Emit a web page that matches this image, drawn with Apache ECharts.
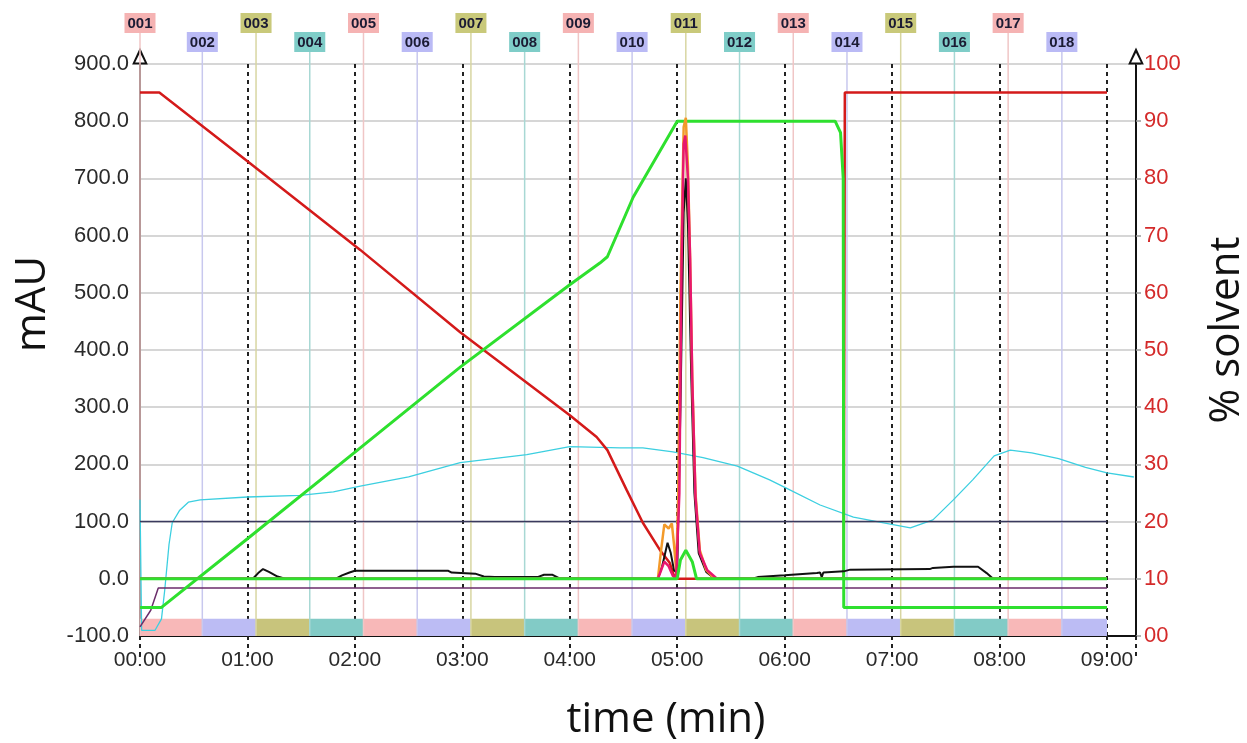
<!DOCTYPE html>
<html>
<head>
<meta charset="utf-8">
<script src="https://cdn.jsdelivr.net/npm/echarts@6/dist/echarts.min.js"></script>
<style>
  html, body { margin: 0; background: #fff; }
  #chart { width: 1247px; height: 743px; }
</style>
</head>
<body>
<div id="chart"></div>
<script>
// fraction collector
const fracNames = ['001','002','003','004','005','006','007','008','009','010','011','012','013','014','015','016','017','018'];
const fracStart = [0, 0.58, 1.08, 1.58, 2.08, 2.58, 3.08, 3.58, 4.08, 4.58, 5.08, 5.58, 6.08, 6.58, 7.08, 7.58, 8.08, 8.58];
const fracEnd = [0.58, 1.08, 1.58, 2.08, 2.58, 3.08, 3.58, 4.08, 4.58, 5.08, 5.58, 6.08, 6.58, 7.08, 7.58, 8.08, 8.58, 9.0];

// gradient (% solvent, right axis) as [min, %]
const solventRed = [[0,95],[0.18,95],[1.0,83],[2.05,67.5],[2.98,53.1],[4.0,38.6],[4.25,34.8],[4.35,32.5],[4.53,25.5],[4.68,19.8],[4.84,15.0],[4.93,12.8],[4.98,10],[6.55,10],[6.56,95],[9.0,95]];
const solventGreen = [[0,5],[0.2,5],[1.0,17],[2.05,32.9],[2.98,47],[4.0,61.4],[4.28,65.2],[4.35,66.3],[4.59,76.7],[5.0,90],[6.47,90],[6.52,88],[6.545,80],[6.55,5],[9.0,5]];

// detector traces (mAU, left axis) as [min, mAU]
const uvCyan = [[0,138],[0.015,-90],[0.14,-90],[0.2,-70],[0.23,-20],[0.27,60],[0.3,98],[0.37,120],[0.45,134],[0.56,138],[1.0,143],[1.49,146],[1.8,152],[2.05,162],[2.5,178],[2.98,203],[3.6,217],[4.0,231],[4.47,229],[4.68,229],[4.96,222],[5.24,212],[5.56,197],[5.86,173],[6.02,158],[6.33,129],[6.64,108],[6.86,100],[7.17,89],[7.38,103],[7.57,138],[7.75,173],[7.95,215],[8.1,225],[8.3,220],[8.55,210],[8.8,195],[9.0,185],[9.25,178]];
const uvBlack = [[0,0],[1.05,0],[1.1,10],[1.145,17],[1.2,12],[1.28,4],[1.35,0],[1.82,0],[1.88,6],[1.95,11],[2.0,14],[2.87,14],[2.9,11],[3.12,9],[3.2,4],[3.3,3],[3.7,3],[3.76,7],[3.84,7],[3.9,1],[4.82,0],[4.86,22],[4.91,63],[4.94,45],[4.97,15],[5.0,10],[5.03,300],[5.06,640],[5.08,700],[5.1,620],[5.13,360],[5.16,150],[5.2,45],[5.27,12],[5.35,0],[5.7,0],[5.75,3],[6.0,6],[6.3,10],[6.33,11],[6.345,3],[6.36,11],[6.55,13],[6.61,16],[7.35,17],[7.38,19],[7.57,21],[7.8,21],[7.88,10],[7.94,0],[9.0,0]];
const uvOrange = [[0,0],[4.82,0],[4.85,50],[4.88,95],[4.92,88],[4.95,97],[4.97,60],[4.99,15],[5.01,150],[5.03,500],[5.06,790],[5.08,806],[5.1,720],[5.12,560],[5.14,350],[5.17,150],[5.21,50],[5.27,15],[5.35,0],[9.0,0]];
const uvMagenta = [[0,0],[4.82,0],[4.85,15],[4.88,30],[4.92,22],[4.96,5],[4.99,2],[5.02,150],[5.04,550],[5.06,760],[5.075,775],[5.1,700],[5.12,560],[5.14,348],[5.17,143],[5.21,45],[5.28,15],[5.37,0],[9.0,0]];
const uvGreen = [[0,0],[5.0,0],[5.03,33],[5.08,50],[5.14,30],[5.18,0],[9.0,0]];
const threshold = [[0,100],[9.0,100]];
const uvPurple = [[0,-84],[0.1,-55],[0.17,-16],[9.0,-16]];

const fracColors = [
  { label: '#f5b3b3', line: '#f0c6c6', band: '#f8b8b8' },
  { label: '#babaf5', line: '#c8c8ee', band: '#bcbcf4' },
  { label: '#c9c97a', line: '#d8d6a2', band: '#c8c47c' },
  { label: '#7fcdc8', line: '#a8d8d4', band: '#82cbc6' }
];

const arrow = 'path://M6,0 L12,13 L0,13 Z M6,4 L2.3,11.4 L9.7,11.4 Z';

const chart = echarts.init(document.getElementById('chart'));

function trace(name, data, color, width, yIndex) {
  return {
    name: name, type: 'line', data: data, yAxisIndex: yIndex || 0,
    showSymbol: false, symbol: 'none', clip: true,
    lineStyle: { color: color, width: width },
    emphasis: { disabled: true }
  };
}

chart.setOption({
  animation: false,
  grid: { left: 140, right: 111, top: 64, bottom: 107 },
  graphic: [
    { type: 'text', x: 33, y: 304, rotation: Math.PI / 2,
      style: { text: 'mAU', font: '42px "Open Sans"', fill: '#111', align: 'center', verticalAlign: 'middle' } },
    { type: 'text', x: 1227, y: 330, rotation: Math.PI / 2,
      style: { text: '% solvent', font: '42px "Open Sans"', fill: '#111', align: 'center', verticalAlign: 'middle' } },
    { type: 'text', x: 666, y: 720,
      style: { text: 'time (min)', font: '42px "Open Sans"', fill: '#111', align: 'center', verticalAlign: 'middle' } }
  ],
  xAxis: {
    type: 'value', min: 0, max: 9.27, interval: 1,
    axisLine: { onZero: false, lineStyle: { color: '#111', width: 2 } },
    axisTick: { show: true, length: 20, lineStyle: { color: '#222', width: 2, type: [4, 4] } },
    axisLabel: {
      color: '#2a2a2a', fontSize: 21, margin: 14, fontFamily: 'Liberation Sans',
      formatter: v => Number.isInteger(v) ? String(v).padStart(2, '0') + ':00' : ''
    },
    splitLine: { show: true, lineStyle: { color: '#222', width: 2, type: [4, 4] } }
  },
  yAxis: [
    {
      type: 'value', min: -100, max: 900, interval: 100, position: 'left',
      axisLine: { show: true, onZero: false, lineStyle: { color: '#111', width: 2 },
        symbol: ['none', arrow], symbolSize: [17, 17], symbolOffset: [0, 8] },
      axisTick: { show: false },
      axisLabel: { color: '#2a2a2a', fontSize: 22, margin: 11, fontFamily: 'Liberation Sans',
        formatter: v => v.toFixed(1) },
      splitLine: { show: true, lineStyle: { color: '#c8c8c8', width: 1.5 } }
    },
    {
      type: 'value', min: 0, max: 100, interval: 10, position: 'right',
      axisLine: { show: true, onZero: false, lineStyle: { color: '#111', width: 2 },
        symbol: ['none', arrow], symbolSize: [17, 17], symbolOffset: [0, 8] },
      axisTick: { show: true, length: 5, lineStyle: { color: '#999', width: 1.5 } },
      axisLabel: { color: '#d42a2a', fontSize: 22, margin: 8, fontFamily: 'Liberation Sans',
        formatter: v => v === 0 ? '00' : String(v) },
      splitLine: { show: false }
    }
  ],
  series: [
    {
      type: 'custom', name: 'fractions', clip: false, z: 1,
      data: fracStart.map((s, i) => [s, fracEnd[i]]),
      renderItem: function (params, api) {
        const i = params.dataIndex;
        const c = fracColors[i % 4];
        const top = api.coord([api.value(0), 900]);
        const bot = api.coord([api.value(0), -100]);
        const end = api.coord([api.value(1), -70]);
        const boxBottom = top[1] - (i % 2 === 0 ? 31 : 12);
        return {
          type: 'group',
          children: [
            { type: 'rect', shape: { x: bot[0], y: end[1], width: end[0] - bot[0], height: bot[1] - end[1] },
              style: { fill: c.band } },
            { type: 'line', shape: { x1: bot[0], y1: bot[1], x2: bot[0], y2: boxBottom },
              style: { stroke: c.line, lineWidth: 1.5 } },
            { type: 'text', x: bot[0], y: boxBottom,
              style: { text: fracNames[i], fill: '#1b1b33', font: 'bold 15px "Liberation Sans"',
                align: 'center', verticalAlign: 'bottom', backgroundColor: c.label, padding: [3, 3, 2, 3] } }
          ]
        };
      }
    },
    trace('uv cyan', uvCyan, '#3ccfe0', 1.3),
    trace('threshold', threshold, '#3a3a5e', 1.5),
    trace('uv purple', uvPurple, '#6b2d6b', 1.5),
    trace('% B', solventRed, '#d41a1a', 2.5, 1),
    trace('% A', solventGreen, '#2ee02e', 3, 1),
    trace('uv black', uvBlack, '#111111', 2),
    trace('uv orange', uvOrange, '#f39a2a', 2.5),
    trace('uv magenta', uvMagenta, '#e8176e', 2.5),
    trace('uv green', uvGreen, '#2ee02e', 3)
  ]
});
</script>
</body>
</html>
